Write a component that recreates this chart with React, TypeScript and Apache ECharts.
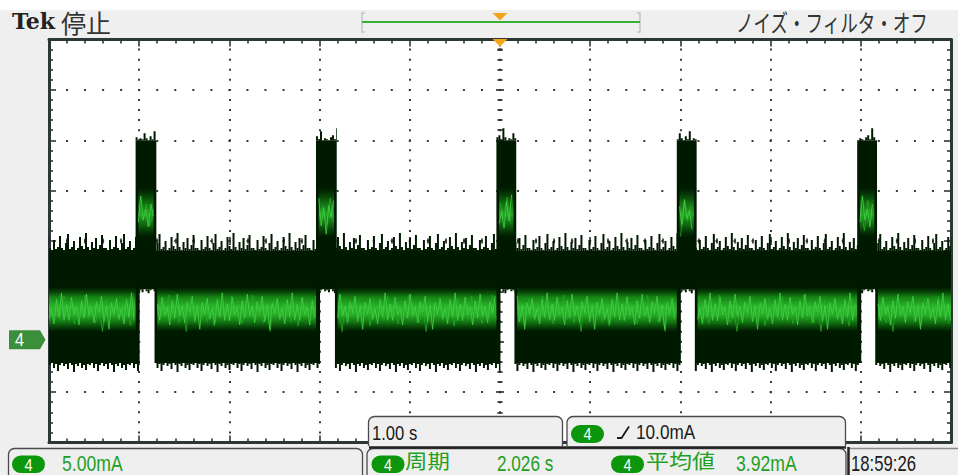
import React, { useEffect, useRef } from "react";
import * as echarts from "echarts";

// ---- data (time in s, current in mA) ----
const timeRange = [-5, 5]; // 1.00 s/div, 10 div
const currentRange = [-10, 30]; // 5.00 mA/div, 8 div
const pulseStart = [-4.04, -2.04, -0.04, 1.96, 3.96];
const pulseEnd = [-3.81, -1.81, 0.18, 2.18, 4.18];
const baseEnvelope = [-2.1, 9.0];
const baseTrace = [1.0, 3.1, 5.4]; // low, centre, high
const pulseEnvelope = [5.2, 20.0];
const pulseTrace = [10.4, 12.7, 15.3];
const groundLevel = 0;
const triggerTime = 0;

const headerLeft = ["Tek", "停止"];
const headerRight = "ノイズ・フィルタ・オフ";
const timebaseLabel = "1.00 s";
const triggerLabel = "10.0mA";
const channelLabel = "4";
const scaleLabel = "5.00mA";
const measureNames = ["周期", "平均値"];
const measureValues = ["2.026 s", "3.92mA"];
const clockLabel = "18:59:26";

// ---- purely visual texture (pixel sizes of noise on the trace edges) ----
const TOP_TEX = [3, 1, 11, 2, 4, 15, 3, 1, 8, 17, 2, 4, 10, 1, 3, 14, 5, 2, 18, 4, 1, 9, 3, 13, 2, 6, 16, 3];
const BOT_TEX = [2, 0, 5, 1, 8, 2, 0, 3, 1, 6, 0, 2, 9, 1, 3, 0, 5, 2, 7, 1];
const PULSE_TOP_TEX = [1, 0, 3, 5, 1, 12, 3, 0, 2, 1, 7, 2, 0, 4, 1, 9, 0, 2];
const PULSE_BOT_TEX = [1, 3, 0, 2, 4, 1, 0, 2];
const ZIG_A = [-6, 9, -12, 4, -3, 13, -9, 7, -15, 5, -4, 11, -8, 2, -13, 10, -5, 17, -7, 3, -11, 8, -2, 12, -10, 6, -16, 9];
const ZIG_B = [5, -8, 10, -4, 14, -11, 3, -6, 9, -13, 7, -2, 12, -9, 4, -14, 8, -5, 11, -3, 19, -10, 6, -7];

const DARK = "#001a00";

function buildSegments() {
  const segs: number[][] = [];
  const bStarts = [timeRange[0], ...pulseEnd.map((e) => e - 0.02)];
  const bEnds = [...pulseStart.map((s) => s + 0.045), timeRange[1]];
  for (let i = 0; i < bStarts.length; i++) segs.push([bStarts[i], bEnds[i], baseEnvelope[0], baseEnvelope[1], 0, 0]);
  for (let i = 0; i < pulseStart.length; i++) segs.push([pulseStart[i], pulseEnd[i], pulseEnvelope[0], pulseEnvelope[1], 1, 0]);
  const tStarts = [timeRange[0], ...pulseEnd];
  const tEnds = [...pulseStart, timeRange[1]];
  for (let i = 0; i < tStarts.length; i++) segs.push([tStarts[i] + (i ? 0.01 : 0), tEnds[i], baseTrace[0], baseTrace[2], 2, baseTrace[1]]);
  for (let i = 0; i < pulseStart.length; i++) segs.push([pulseStart[i] + 0.03, pulseEnd[i] - 0.03, pulseTrace[0], pulseTrace[2], 3, pulseTrace[1]]);
  return segs;
}

function renderSegment(params: any, api: any) {
  const kind = api.value(4);
  const a = api.coord([api.value(0), api.value(3)]);
  const b = api.coord([api.value(1), api.value(2)]);
  const x0 = a[0], x1 = b[0], yTop = a[1], yBot = b[1];
  const seed = params.dataIndex * 7;
  const children: any[] = [];
  if (kind === 0 || kind === 1) {
    children.push({ type: "rect", shape: { x: x0, y: yTop, width: x1 - x0, height: yBot - yTop }, style: { fill: DARK } });
    const topTex = kind === 0 ? TOP_TEX : PULSE_TOP_TEX;
    const botTex = kind === 0 ? BOT_TEX : PULSE_BOT_TEX;
    let i = 0;
    for (let x = x0; x < x1 - 0.5; x += 2, i++) {
      const w = Math.min(2, x1 - x);
      const ht = topTex[(i + seed) % topTex.length];
      if (ht > 0) children.push({ type: "rect", shape: { x, y: yTop - ht, width: w, height: ht }, style: { fill: DARK } });
      const hb = botTex[(i + seed * 3) % botTex.length];
      if (hb > 0) children.push({ type: "rect", shape: { x, y: yBot, width: w, height: hb }, style: { fill: DARK } });
    }
  } else {
    const yc = api.coord([0, api.value(5)])[1];
    const isBase = kind === 2;
    children.push({
      type: "rect",
      shape: { x: x0, y: yTop, width: x1 - x0, height: yBot - yTop },
      style: {
        fill: {
          type: "linear", x: 0, y: 0, x2: 0, y2: 1,
          colorStops: isBase
            ? [
                { offset: 0, color: "rgba(16,110,16,0)" },
                { offset: 0.22, color: "rgba(24,150,24,0.85)" },
                { offset: 0.45, color: "#30bb30" },
                { offset: 0.62, color: "#2aae2a" },
                { offset: 0.8, color: "rgba(22,140,22,0.75)" },
                { offset: 1, color: "rgba(16,110,16,0)" },
              ]
            : [
                { offset: 0, color: "rgba(16,100,16,0)" },
                { offset: 0.3, color: "rgba(22,135,22,0.75)" },
                { offset: 0.55, color: "rgba(44,180,44,0.9)" },
                { offset: 0.78, color: "rgba(22,130,22,0.65)" },
                { offset: 1, color: "rgba(16,100,16,0)" },
              ],
        },
      },
    });
    const amp = isBase ? 1.1 : 1.2;
    const ptsA: number[][] = [];
    let i = 0;
    for (let x = x0; x <= x1; x += 2.5, i++) ptsA.push([x, yc + ZIG_A[(i + seed) % ZIG_A.length] * amp]);
    const ptsB: number[][] = [];
    i = 0;
    for (let x = x0 + 1; x <= x1; x += 3.5, i++) ptsB.push([x, yc + ZIG_B[(i + seed) % ZIG_B.length] * amp]);
    children.push({ type: "polyline", shape: { points: ptsB }, style: { stroke: "#22a822", lineWidth: 0.9, fill: null, opacity: 0.9 } });
    children.push({ type: "polyline", shape: { points: ptsA }, style: { stroke: "#44d044", lineWidth: 0.9, fill: null, opacity: 0.9 } });
  }
  return { type: "group", children };
}

const BORDER = "#2c3838";
const GRID = { left: 49, top: 39.5, width: 902, height: 403 };

function borderAxis(pos: string, isX: boolean, split: boolean) {
  return {
    type: "value",
    position: pos,
    min: isX ? timeRange[0] : currentRange[0],
    max: isX ? timeRange[1] : currentRange[1],
    interval: isX ? 1 : 5,
    axisLine: { show: true, onZero: false, lineStyle: { color: BORDER, width: 3 } },
    axisTick: { show: true, inside: true, length: 7, lineStyle: { color: BORDER, width: 1.6 } },
    minorTick: { show: true, splitNumber: 5, length: 4, lineStyle: { color: BORDER, width: 1.6 } },
    axisLabel: { show: false },
    splitLine: {
      show: split,
      lineStyle: {
        color: "#3a3a3a",
        width: 2,
        type: isX ? [2, GRID.height / 40 - 2] : [2, GRID.width / 50 - 2],
        dashOffset: 1,
      },
    },
  };
}

function centerAxis(isX: boolean, inside: boolean) {
  return {
    type: "value",
    position: isX ? "bottom" : "left",
    offset: isX ? -GRID.height / 2 : -GRID.width / 2,
    min: isX ? timeRange[0] : currentRange[0],
    max: isX ? timeRange[1] : currentRange[1],
    interval: isX ? 1 : 5,
    axisLine: { show: false, onZero: false },
    axisTick: { show: true, inside, length: 4, lineStyle: { color: "#2a2a2a", width: 1.6 } },
    minorTick: { show: true, splitNumber: 5, length: 2.6, lineStyle: { color: "#2a2a2a", width: 1.6 } },
    axisLabel: { show: false },
    splitLine: { show: false },
  };
}

const GREEN_TXT = "#1f9f1f";
const PILL = "#0b960b";
const NUMFONT = '"Liberation Sans", Arial, sans-serif';
const CJK = '"Noto Sans CJK JP", "Noto Sans CJK SC", sans-serif';

function pill(x: number, y: number, w: number, h: number) {
  return [
    { type: "rect", z: 101, shape: { x, y, width: w, height: h, r: h / 2 }, style: { fill: PILL } },
    {
      type: "text", z: 102, x: x + w / 2, y: y + h / 2 + 0.5, scaleX: 0.85,
      style: { text: channelLabel, x: 0, y: 0, fill: "#ffffff", font: `17px ${NUMFONT}`, textAlign: "center", textVerticalAlign: "middle", align: "center", verticalAlign: "middle" },
    },
  ];
}

function txt(text: string, x: number, y: number, font: string, fill: string, scaleX = 1) {
  return {
    type: "text", z: 102, x, y, scaleX,
    style: { text, x: 0, y: 0, font, fill, textAlign: "left", textVerticalAlign: "middle", align: "left", verticalAlign: "middle" },
  };
}

function staticGraphics(trigX: number, groundY: number) {
  const g: any[] = [];
  g.push({ type: "rect", z: 100, shape: { x: 0, y: 0, width: 958, height: 10 }, style: { fill: "#ffffff" } });
  g.push(txt(headerLeft[0], 12, 20.5, `bold 22px "DejaVu Serif", serif`, "#222222"));
  g.push(txt(headerLeft[1], 61, 21.5, `25px ${CJK}`, "#333333"));
  g.push(txt(headerRight, 736, 22, `24px ${CJK}`, "#333333", 0.73));
  const bc = "#c4c4c4";
  g.push({ type: "polyline", z: 101, shape: { points: [[365, 13], [362, 13], [362, 32], [365, 32]] }, style: { stroke: bc, lineWidth: 1.5, fill: null } });
  g.push({ type: "polyline", z: 101, shape: { points: [[637, 13], [640, 13], [640, 32], [637, 32]] }, style: { stroke: bc, lineWidth: 1.5, fill: null } });
  g.push({ type: "line", z: 101, shape: { x1: 362, y1: 22, x2: 640, y2: 22 }, style: { stroke: "#38b038", lineWidth: 2.2 } });
  g.push({ type: "polygon", z: 102, shape: { points: [[trigX - 7.5, 13], [trigX + 7.5, 13], [trigX, 20.5]] }, style: { fill: "#f4a418" } });
  g.push({ type: "polygon", z: 102, shape: { points: [[trigX - 7.5, 39], [trigX + 7.5, 39], [trigX, 46.5]] }, style: { fill: "#f4a418" } });
  g.push({ type: "rect", z: 102, shape: { x: trigX - 2.5, y: 48.5, width: 5, height: 2 }, style: { fill: "#333333" } });
  g.push({ type: "polygon", z: 102, shape: { points: [[9, groundY - 9.5], [40, groundY - 9.5], [45.5, groundY], [40, groundY + 9.5], [9, groundY + 9.5]] }, style: { fill: "#3b8f3b" } });
  g.push({
    type: "text", z: 103, x: 19.5, y: groundY + 0.5, scaleX: 0.9,
    style: { text: channelLabel, x: 0, y: 0, fill: "#ffffff", font: `18px ${NUMFONT}`, textAlign: "center", textVerticalAlign: "middle", align: "center", verticalAlign: "middle" },
  });
  const boxStroke = "#4a4a4a";
  g.push({ type: "rect", z: 100, shape: { x: 368.5, y: 416.5, width: 194, height: 36, r: [6, 6, 0, 0] }, style: { fill: "#efefef", stroke: boxStroke, lineWidth: 1.3 } });
  g.push({ type: "rect", z: 100, shape: { x: 567, y: 416.5, width: 278.5, height: 36, r: [6, 6, 0, 0] }, style: { fill: "#efefef", stroke: boxStroke, lineWidth: 1.3 } });
  g.push(txt(timebaseLabel, 372, 432.5, `20px ${NUMFONT}`, "#1a1a1a", 0.83));
  g.push(...pill(571, 425, 33, 18));
  g.push({ type: "polyline", z: 102, shape: { points: [[617, 438], [621.5, 438], [629, 426.5]] }, style: { stroke: "#1a1a1a", lineWidth: 1.8, fill: null } });
  g.push(txt(triggerLabel, 636, 432.5, `20px ${NUMFONT}`, "#1a1a1a", 0.86));
  g.push({ type: "rect", z: 100, shape: { x: 0, y: 446, width: 958, height: 29 }, style: { fill: "#efefef" } });
  g.push({ type: "rect", z: 101, shape: { x: 8.5, y: 448.5, width: 354, height: 40, r: [6, 6, 0, 0] }, style: { fill: "#efefef", stroke: boxStroke, lineWidth: 1.3 } });
  g.push({ type: "rect", z: 101, shape: { x: 367, y: 448.5, width: 479, height: 40, r: [6, 6, 0, 0] }, style: { fill: "#efefef", stroke: boxStroke, lineWidth: 1.3 } });
  g.push({ type: "line", z: 102, shape: { x1: 369, y1: 447.5, x2: 846, y2: 447.5 }, style: { stroke: "#222222", lineWidth: 2.5 } });
  g.push({ type: "line", z: 102, shape: { x1: 848, y1: 448.5, x2: 958, y2: 448.5 }, style: { stroke: "#8a8a8a", lineWidth: 1.3 } });
  g.push({ type: "line", z: 102, shape: { x1: 848.5, y1: 447, x2: 848.5, y2: 475 }, style: { stroke: "#222222", lineWidth: 2.5 } });
  g.push(...pill(12, 455.5, 33, 17.5));
  g.push(txt(scaleLabel, 62, 463.5, `22px ${NUMFONT}`, GREEN_TXT, 0.8));
  g.push(...pill(371.5, 455.5, 33, 17.5));
  g.push(txt(measureNames[0], 405, 460.5, `20px ${CJK}`, GREEN_TXT, 1.12));
  g.push(txt(measureValues[0], 497, 463.5, `22px ${NUMFONT}`, GREEN_TXT, 0.78));
  g.push(...pill(611, 455.5, 33, 17.5));
  g.push(txt(measureNames[1], 646, 460.5, `20px ${CJK}`, GREEN_TXT, 1.15));
  g.push(txt(measureValues[1], 736, 463.5, `22px ${NUMFONT}`, GREEN_TXT, 0.8));
  g.push(txt(clockLabel, 851, 463.5, `22px ${NUMFONT}`, "#1a1a1a", 0.76));
  return g;
}

export default function App() {
  const ref = useRef<HTMLDivElement>(null);
  useEffect(() => {
    if (!ref.current) return;
    const chart = echarts.init(ref.current, null, { renderer: "svg" });
    chart.setOption({
      animation: false,
      backgroundColor: "#efefef",
      grid: { ...GRID, show: true, backgroundColor: "#ffffff", borderWidth: 0 },
      xAxis: [borderAxis("bottom", true, true), borderAxis("top", true, false), centerAxis(true, true), centerAxis(true, false)],
      yAxis: [borderAxis("left", false, true), borderAxis("right", false, false), centerAxis(false, true), centerAxis(false, false)],
      series: [
        {
          type: "custom",
          xAxisIndex: 0,
          yAxisIndex: 0,
          clip: true,
          encode: { x: [0, 1], y: [2, 3] },
          data: buildSegments(),
          renderItem: renderSegment,
        },
      ],
    });
    const trigX = chart.convertToPixel({ xAxisIndex: 0 }, triggerTime) as number;
    const groundY = chart.convertToPixel({ yAxisIndex: 0 }, groundLevel) as number;
    chart.setOption({ graphic: { elements: staticGraphics(trigX, groundY - 2) } });
    return () => chart.dispose();
  }, []);
  return <div ref={ref} style={{ position: "fixed", left: 0, top: 0, width: 958, height: 475 }} />;
}
